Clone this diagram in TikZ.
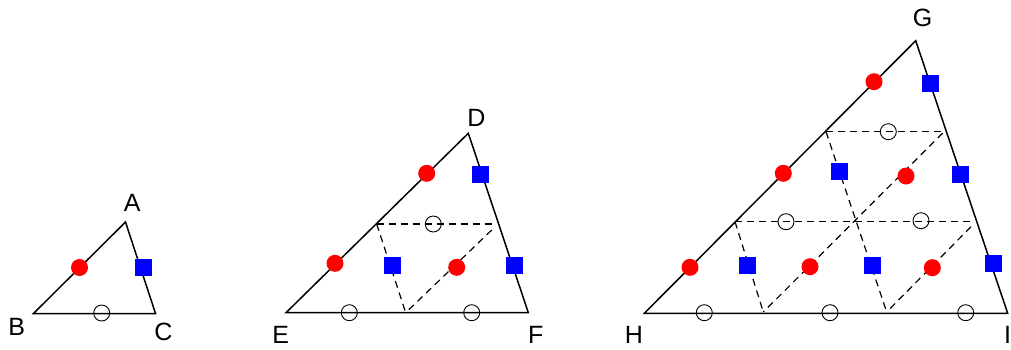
\documentclass[tikz,border=0pt]{standalone}
\usepackage{fontspec}
\setmainfont{Liberation Sans}
\begin{document}
\begin{tikzpicture}[x=1pt,y=-1pt,
  edge/.style={line width=1.5pt, line join=miter},
  grid/.style={line width=1.2pt, dash pattern=on 7pt off 5pt},
  redpt/.style={circle, fill=red, minimum size=17pt, inner sep=0pt},
  bluesq/.style={rectangle, fill=blue, minimum size=17pt, inner sep=0pt},
  hollow/.style={circle, draw=black, line width=0.9pt, minimum size=16pt, inner sep=0pt},
  lbl/.style={font=\fontsize{25}{25}\selectfont, inner sep=0pt}]
\useasboundingbox (0,0) rectangle (1011,349);

% ---------- Triangle ABC ----------
\coordinate (A) at (125.5,222);
\coordinate (B) at (33.5,313.5);
\coordinate (C) at (155.5,313.5);
\draw[edge] (A) -- (B) -- (C) -- cycle;
\node[redpt] (r1) at (79.5,267.5) {};
\node[bluesq] (b1) at (143.3,267.3) {};
\node[hollow] (h1) at (101.7,313) {};
\node[lbl] (lA) at (132.3,203) {A};
\node[lbl] (lB) at (16.7,326.7) {B};
\node[lbl] (lC) at (163.3,331.7) {C};

% ---------- Triangle DEF ----------
\coordinate (D) at (468.3,133.3);
\coordinate (E) at (286,312.7);
\coordinate (F) at (528.3,312.7);
\coordinate (d1) at (376.7,224);
\coordinate (d2) at (492.3,224);
\coordinate (d3) at (491.7,230);
\coordinate (d4) at (405.7,312.7);
\draw[grid] (d1) -- (d2);
\draw[grid] (d1) -- (d4);
\draw[grid] (d3) -- (d4);
\draw[edge] (D) -- (E) -- (F) -- cycle;
\node[redpt] (r2a) at (426.7,173.3) {};
\node[redpt] (r2b) at (335,263.3) {};
\node[redpt] (r2c) at (456.7,267.3) {};
\node[bluesq] (b2a) at (480,174) {};
\node[bluesq] (b2b) at (514,265.7) {};
\node[bluesq] (b2c) at (392.3,265.7) {};
\node[hollow] (h2a) at (433.3,224) {};
\node[hollow] (h2b) at (349.3,312.7) {};
\node[hollow] (h2c) at (471.7,312.7) {};
\node[lbl] (lD) at (476.3,118) {D};
\node[lbl] (lE) at (280.8,335) {E};
\node[lbl] (lF) at (535.8,335) {F};

% ---------- Triangle GHI ----------
\coordinate (G) at (915.7,40.7);
\coordinate (H) at (644.3,313.3);
\coordinate (I) at (1007.7,313.3);
\coordinate (g1) at (826,131.7);
\coordinate (g2) at (942.7,131.7);
\coordinate (g3) at (735,221.7);
\coordinate (g4) at (974,221.7);
\coordinate (g5) at (971,226.7);
\coordinate (g6) at (763.3,312);
\coordinate (g7) at (886.7,312);
\coordinate (g8) at (942.7,133);
\draw[grid] (g1) -- (g2);
\draw[grid] (g3) -- (g4);
\draw[grid] (g1) -- (g7);
\draw[grid] (g3) -- (g6);
\draw[grid] (g8) -- (g6);
\draw[grid] (g5) -- (g7);
\draw[edge] (G) -- (H) -- (I) -- cycle;
\node[redpt] (r3a) at (874,81.7) {};
\node[redpt] (r3b) at (783.3,173.3) {};
\node[redpt] (r3c) at (690,267.3) {};
\node[redpt] (r3d) at (906,176) {};
\node[redpt] (r3e) at (810,266.7) {};
\node[redpt] (r3f) at (932.3,267.7) {};
\node[bluesq] (b3a) at (930,83.3) {};
\node[bluesq] (b3b) at (960.7,174) {};
\node[bluesq] (b3c) at (993.3,263.3) {};
\node[bluesq] (b3d) at (839.3,171.7) {};
\node[bluesq] (b3e) at (747.7,265) {};
\node[bluesq] (b3f) at (872.3,265) {};
\node[hollow] (h3a) at (888.3,131.7) {};
\node[hollow] (h3b) at (786,221.7) {};
\node[hollow] (h3c) at (921,220.7) {};
\node[hollow] (h3d) at (704.3,312.7) {};
\node[hollow] (h3e) at (830,312.7) {};
\node[hollow] (h3f) at (965.7,312.7) {};
\node[lbl] (lG) at (922.7,18.3) {G};
\node[lbl] (lH) at (633.8,335) {H};
\node[lbl] (lI) at (1007.5,334.5) {I};
\end{tikzpicture}
\end{document}
